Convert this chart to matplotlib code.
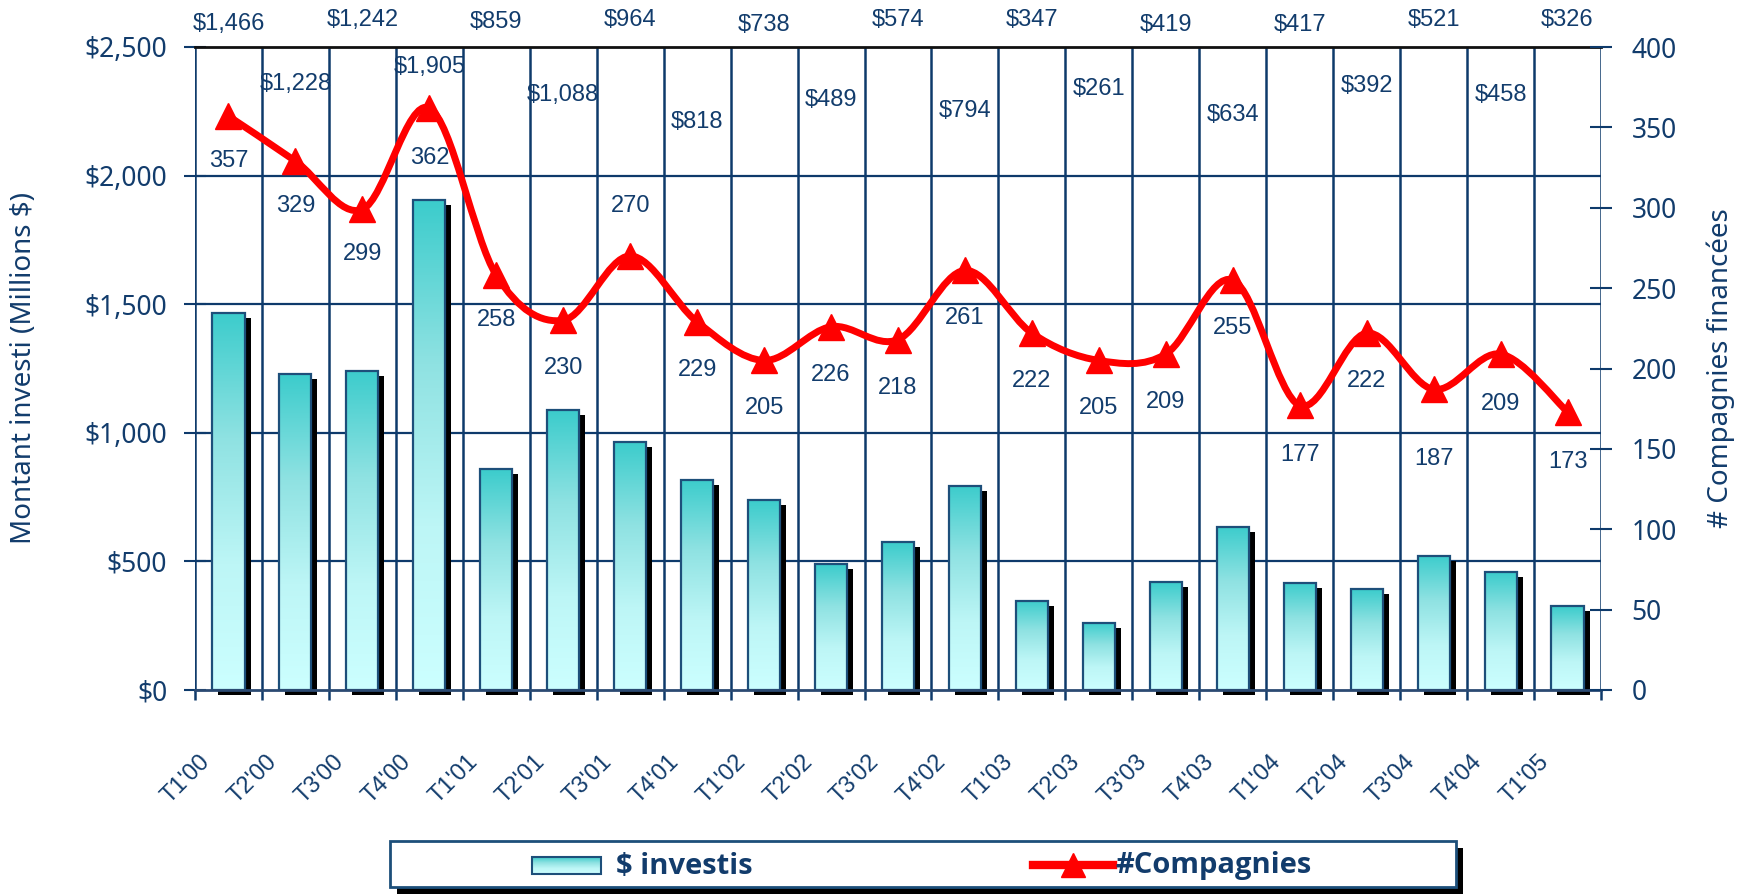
import numpy as np
import matplotlib
matplotlib.use("Agg")
import matplotlib.pyplot as plt
from matplotlib.patches import Rectangle, PathPatch
from matplotlib.path import Path
from matplotlib.lines import Line2D
from matplotlib.colors import LinearSegmentedColormap
import matplotlib.transforms as mtransforms

# ---------------- data ----------------
quarters = ["T1'00", "T2'00", "T3'00", "T4'00", "T1'01", "T2'01", "T3'01", "T4'01",
            "T1'02", "T2'02", "T3'02", "T4'02", "T1'03", "T2'03", "T3'03", "T4'03",
            "T1'04", "T2'04", "T3'04", "T4'04", "T1'05"]
invested = [1466, 1228, 1242, 1905, 859, 1088, 964, 818, 738, 489, 574, 794,
            347, 261, 419, 634, 417, 392, 521, 458, 326]
companies = [357, 329, 299, 362, 258, 230, 270, 229, 205, 226, 218, 261,
             222, 205, 209, 255, 177, 222, 187, 209, 173]
left_ticks = [0, 500, 1000, 1500, 2000, 2500]
right_ticks = list(range(0, 401, 50))

# label placement (figure pixel rows for bar values, pixel offsets for line values)
bar_label_rows = [24, 84, 20, 67, 22, 95, 20, 122, 25, 100, 20, 111, 20, 89, 25, 115,
                  25, 86, 20, 95, 20]
line_label_off = [45, 45, 45, 50, 45, 48, -50, 48, 48, 48, 48, 48, 48, 48, 48, 48,
                  50, 48, 70, 50, 50]

W, H, DPI = 1746, 894, 100
NAVY = '#0E3A6B'
TXT = '#123C6C'
NARROW = ['Liberation Sans Narrow', 'Liberation Sans', 'DejaVu Sans']
SANS = ['Noto Sans', 'DejaVu Sans']
BOLD = ['Open Sans', 'DejaVu Sans']

fig = plt.figure(figsize=(W / DPI, H / DPI), dpi=DPI)
L, R, T, B = 195, 1601, 47, 690
ax = fig.add_axes([L / W, 1 - B / H, (R - L) / W, (B - T) / H])
ax2 = ax.twinx()
n = len(quarters)
ax.set_xlim(0, n)
ax.set_ylim(0, 2500)
ax2.set_ylim(0, 400)
ax.set_zorder(1)
ax2.set_zorder(2)
ax2.patch.set_visible(False)

# gridlines
for v in left_ticks[1:-1]:
    ax.axhline(v, color=NAVY, lw=1.6, zorder=1)
for i in range(n + 1):
    ax.axvline(i, color=NAVY, lw=1.8, zorder=1)

# spines
for s in ['left', 'right', 'bottom', 'top']:
    ax.spines[s].set_visible(False)
    ax2.spines[s].set_visible(False)
ax.spines['top'].set_visible(True)
ax.spines['top'].set_color('#111111')
ax.spines['top'].set_linewidth(2)
ax.spines['bottom'].set_visible(True)
ax.spines['bottom'].set_color('#2B4A72')
ax.spines['bottom'].set_linewidth(2)
ax.spines['bottom'].set_zorder(4)

# ticks
ax.set_yticks(left_ticks)
ax.set_yticklabels(['${:,}'.format(v) for v in left_ticks], fontsize=19,
                   color=TXT, family=SANS)
ax.tick_params(axis='y', direction='inout', length=16, width=1.5, color=NAVY, pad=12)
ax2.set_yticks(right_ticks)
ax2.set_yticklabels([str(v) for v in right_ticks], fontsize=19, color=TXT, family=SANS)
ax2.tick_params(axis='y', direction='inout', length=16, width=1.5, color=NAVY, pad=14)
ax.set_xticks(range(n + 1))
ax.set_xticklabels([])
ax.tick_params(axis='x', direction='out', length=7, width=1.8, color=NAVY)

ax.set_ylabel('Montant investi (Millions $)', fontsize=20, color=TXT, family=SANS)
ax.yaxis.set_label_coords((38 - L) / (R - L), 0.5)
ax2.set_ylabel('# Compagnies financées', fontsize=20, color=TXT, family=SANS)
ax2.yaxis.set_label_coords(1 + (1706 - R) / (R - L), 0.5)

# x category labels
for i, q in enumerate(quarters):
    off = mtransforms.ScaledTranslation(-22 / DPI, -68 / DPI, fig.dpi_scale_trans)
    tr = mtransforms.blended_transform_factory(ax.transData, ax.transAxes) + off
    ax.text(i + 0.5, 0, q, transform=tr, rotation=45, rotation_mode='anchor',
            ha='right', va='center', fontsize=17, color=TXT, family=NARROW)

# gradient bars with shadow
bw = 0.48
grad = np.linspace(0, 1, 256).reshape(-1, 1)
cmap = LinearSegmentedColormap.from_list('g', ['#CCFFFF', '#BDF6F6', '#8FE2E2', '#3CCCCC'])
shadow_off = mtransforms.ScaledTranslation(6 / DPI, -5 / DPI, fig.dpi_scale_trans)
for i, v in enumerate(invested):
    x0 = i + 0.5 - bw / 2
    sh = Rectangle((x0, 0), bw, v, facecolor='black', edgecolor='none',
                   transform=ax.transData + shadow_off, zorder=2, clip_on=False)
    ax.add_patch(sh)
    rect = Rectangle((x0, 0), bw, v, facecolor='none', edgecolor='#1D4F7A', lw=1.6,
                     zorder=4)
    ax.add_patch(rect)
    im = ax.imshow(grad, extent=[x0, x0 + bw, 0, v], origin='lower', cmap=cmap,
                   aspect='auto', zorder=3, interpolation='bilinear')
    im.set_clip_path(rect)
ax.set_xlim(0, n)
ax.set_ylim(0, 2500)

# bar value labels
tr_lab = mtransforms.blended_transform_factory(ax.transData, fig.transFigure)
for i, v in enumerate(invested):
    ax.text(i + 0.5, 1 - bar_label_rows[i] / H, '${:,}'.format(v), transform=tr_lab,
            ha='center', va='center', fontsize=17, color=TXT, family=NARROW,
            zorder=6, clip_on=False)

# smoothed line (Catmull-Rom -> cubic Bezier through the data points)
xs = np.arange(n) + 0.5
ys = np.array(companies, dtype=float)
P = np.column_stack([xs, ys])
verts = [P[0]]
codes = [Path.MOVETO]
for k in range(n - 1):
    p0 = P[k - 1] if k > 0 else P[k]
    p1, p2 = P[k], P[k + 1]
    p3 = P[k + 2] if k + 2 < n else P[k + 1]
    c1 = p1 + (p2 - p0) / 6.0
    c2 = p2 - (p3 - p1) / 6.0
    verts += [c1, c2, p2]
    codes += [Path.CURVE4] * 3
path = Path(verts, codes)
ax2.add_patch(PathPatch(path, facecolor='none', edgecolor='#FF0000', lw=5,
                        capstyle='round', joinstyle='round', zorder=5))
ax2.plot(xs, ys, linestyle='none', marker='^', markersize=19, color='#FF0000',
         markeredgecolor='#FF0000', zorder=6)

for i, v in enumerate(companies):
    ax2.annotate(str(v), (xs[i], v), xytext=(0, -line_label_off[i] * 72 / DPI),
                 textcoords='offset points', ha='center', va='center', fontsize=17,
                 color=TXT, family=NARROW, zorder=7)
ax2.set_xlim(0, n)

# legend (custom box with shadow)
lx0, lx1, ly0, ly1 = 390, 1456, 841, 887
lax = fig.add_axes([lx0 / W, 1 - ly1 / H, (lx1 - lx0) / W, (ly1 - ly0) / H])
lw_, lh_ = lx1 - lx0, ly1 - ly0
lax.set_xlim(0, lw_)
lax.set_ylim(0, lh_)
lax.axis('off')
lax.add_patch(Rectangle((7, -7), lw_, lh_, facecolor='black', edgecolor='none',
                        clip_on=False, zorder=0))
lax.add_patch(Rectangle((0, 0), lw_, lh_, facecolor='white', edgecolor='#1D4F7A',
                        lw=2, clip_on=False, zorder=1))
lrect = Rectangle((142, 13), 69, 17, facecolor='none', edgecolor='#1D4F7A', lw=1.5,
                  zorder=3)
lax.add_patch(lrect)
lim = lax.imshow(grad[::-1], extent=[142, 211, 13, 30], origin='upper', cmap=cmap,
                 aspect='auto', zorder=2)
lim.set_clip_path(lrect)
lax.text(226, 21, '$ investis', ha='left', va='center', fontsize=21,
         fontweight='bold', color=TXT, family=BOLD, zorder=4)
lax.add_line(Line2D([643, 723], [22, 22], color='#FF0000', lw=6, zorder=4))
lax.plot([683], [22], marker='^', markersize=17, color='#FF0000', zorder=5)
lax.text(725, 21, '#Compagnies', ha='left', va='center', fontsize=21,
         fontweight='bold', color=TXT, family=BOLD, zorder=4)
lax.set_xlim(0, lw_)
lax.set_ylim(0, lh_)

fig.savefig('out.png', dpi=DPI)
